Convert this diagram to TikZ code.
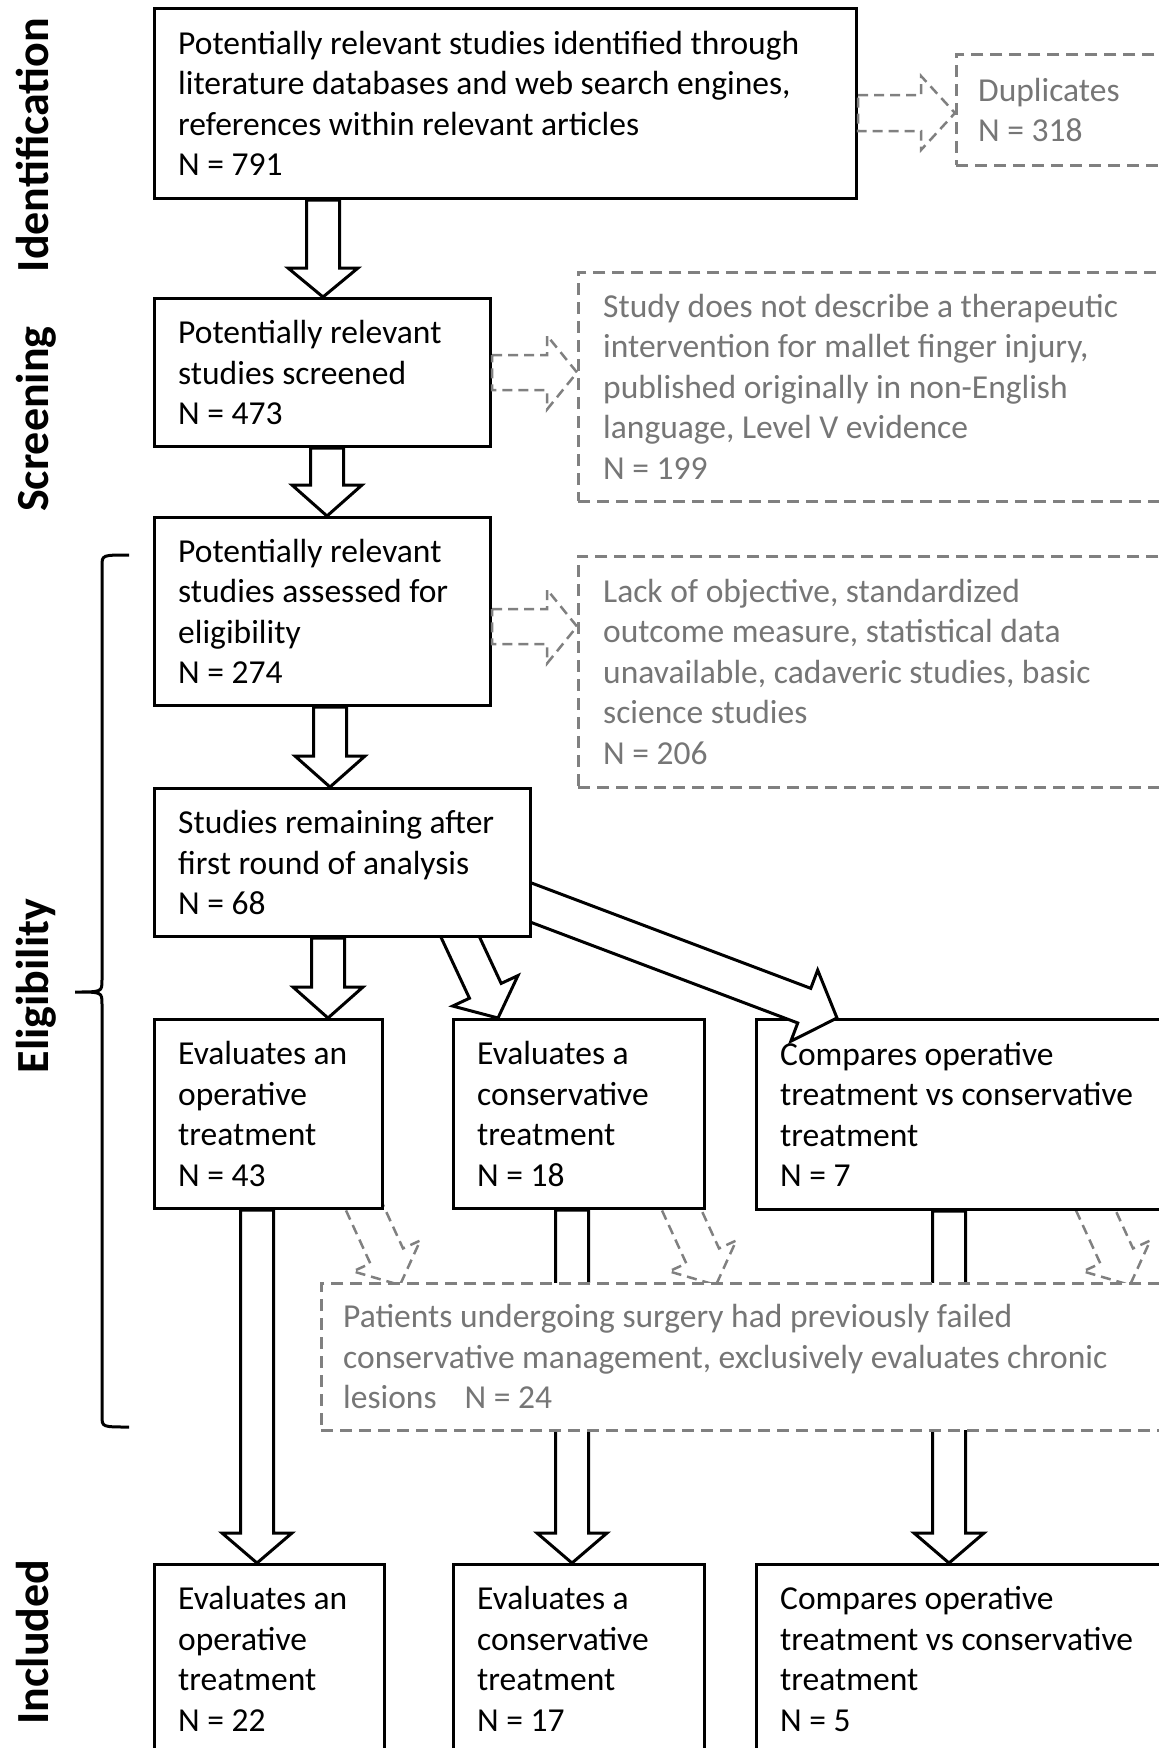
\documentclass[tikz,border=0pt]{standalone}
\usepackage{fontspec}
\setmainfont{Carlito}
\usetikzlibrary{calc}
\pgfdeclarelayer{bg}
\pgfdeclarelayer{front}
\pgfdeclarelayer{top}
\pgfsetlayers{bg,main,front,top}
\definecolor{dgray}{RGB}{128,128,128}
\definecolor{tgray}{RGB}{118,118,118}
\tikzset{
  box/.style={draw=black, line width=3pt, fill=white, anchor=north west, inner sep=0pt},
  dbox/.style={draw=dgray, line width=2.5pt, dash pattern=on 12pt off 7pt, fill=white, anchor=north west, inner sep=0pt},
  txt/.style={anchor=west, align=left, inner sep=0pt, font=\fontsize{33.5}{40.5}\selectfont, text=black},
  dtxt/.style={txt, text=tgray},
  side/.style={rotate=90, anchor=base, inner sep=0pt, font=\fontsize{46}{50}\selectfont\bfseries},
  blk/.style={draw=black, line width=3pt, fill=white, line join=miter},
  gar/.style={draw=dgray, line width=2.5pt, dash pattern=on 10pt off 6pt, fill=white},
}
% #1 style, #2 start, #3 tip, #4 shaft half width, #5 head half width, #6 head length
\newcommand{\blockarr}[6][]{%
  \coordinate (bah) at ($(#3)!#6pt!(#2)$);
  \draw[#1] ($(#2)!#4pt!90:(#3)$) -- ($(bah)!#4pt!-90:(#2)$) -- ($(bah)!#5pt!-90:(#2)$) -- (#3) -- ($(bah)!#5pt!90:(#2)$) -- ($(bah)!#4pt!90:(#2)$) -- ($(#2)!#4pt!-90:(#3)$) -- cycle;
}
\begin{document}
\begin{tikzpicture}[x=1pt,y=-1pt]
\useasboundingbox (0,0) rectangle (1159,1748);

% side labels
\node[side] (lid) at (48,145) {Identification};
\node[side] (lsc) at (48,419) {Screening};
\node[side] (lel) at (48,986) {Eligibility};
\node[side] (lin) at (48,1642) {Included};

% brace
\draw[line width=3pt] (129,555) .. controls (102,555) .. (102,566) -- (102,980) .. controls (102,992) .. (75,992) .. controls (102,992) .. (102,1004) -- (102,1416) .. controls (102,1427) .. (129,1427);

% boxes
\node[box, minimum width=702pt, minimum height=190pt] (b1) at (153,7) {};
\node[txt] (b1t) at ($(b1.west)+(25,0)$) {Potentially relevant studies identified through\\literature databases and web search engines,\\references within relevant articles\\N = 791};

\node[dbox, minimum width=205pt, minimum height=111pt] (dup) at (955,53) {};
\node[dtxt] (dupt) at ($(dup.west)+(23,0)$) {Duplicates\\N = 318};

\node[box, minimum width=336pt, minimum height=148pt] (b2) at (153,297) {};
\node[txt] (b2t) at ($(b2.west)+(25,0)$) {Potentially relevant\\studies screened\\N = 473};

\node[dbox, minimum width=583pt, minimum height=229pt] (ex2) at (577,271) {};
\node[dtxt] (ex2t) at ($(ex2.west)+(26,0)$) {Study does not describe a therapeutic\\intervention for mallet finger injury,\\published originally in non-English\\language, Level V evidence\\N = 199};

\node[box, minimum width=336pt, minimum height=188pt] (b3) at (153,516) {};
\node[txt] (b3t) at ($(b3.west)+(25,0)$) {Potentially relevant\\studies assessed for\\eligibility\\N = 274};

\node[dbox, minimum width=583pt, minimum height=231pt] (ex3) at (577,555) {};
\node[dtxt] (ex3t) at ($(ex3.west)+(26,0)$) {Lack of objective, standardized\\outcome measure, statistical data\\unavailable, cadaveric studies, basic\\science studies\\N = 206};

\begin{pgfonlayer}{top}
\node[box, minimum width=376pt, minimum height=148pt] (b4) at (153,787) {};
\node[txt] (b4t) at ($(b4.west)+(25,0)$) {Studies remaining after\\first round of analysis\\N = 68};
\end{pgfonlayer}

\node[box, minimum width=228pt, minimum height=189pt] (b5a) at (153,1018) {};
\node[txt] (b5at) at ($(b5a.west)+(25,0)$) {Evaluates an\\operative\\treatment\\N = 43};

\node[box, minimum width=251pt, minimum height=189pt] (b5b) at (452,1018) {};
\node[txt] (b5bt) at ($(b5b.west)+(25,0)$) {Evaluates a\\conservative\\treatment\\N = 18};

\node[box, minimum width=405pt, minimum height=190pt] (b5c) at (755,1018) {};
\node[txt] (b5ct) at ($(b5c.west)+(25,0)$) {Compares operative\\treatment vs conservative\\treatment\\N = 7};

\node[dbox, minimum width=840pt, minimum height=147pt] (b6) at (320,1282) {};
\node[dtxt] (b6t) at ($(b6.west)+(23,0)$) {Patients undergoing surgery had previously failed\\conservative management, exclusively evaluates chronic\\lesions\hspace{28pt}N = 24};

\node[box, minimum width=230pt, minimum height=189pt] (b7a) at (153,1563) {};
\node[txt] (b7at) at ($(b7a.west)+(25,0)$) {Evaluates an\\operative\\treatment\\N = 22};

\node[box, minimum width=251pt, minimum height=189pt] (b7b) at (452,1563) {};
\node[txt] (b7bt) at ($(b7b.west)+(25,0)$) {Evaluates a\\conservative\\treatment\\N = 17};

\node[box, minimum width=405pt, minimum height=189pt] (b7c) at (755,1563) {};
\node[txt] (b7ct) at ($(b7c.west)+(25,0)$) {Compares operative\\treatment vs conservative\\treatment\\N = 5};

% connector end points
\coordinate (a1s) at ($(b1.south west)+(170,0)$);
\coordinate (a1e) at (a1s |- b2.north);
\coordinate (a2s) at ($(b2.south west)+(174,0)$);
\coordinate (a2e) at (a2s |- b3.north);
\coordinate (a3s) at ($(b3.south west)+(177,0)$);
\coordinate (a3e) at (a3s |- b4.north);
\coordinate (a4s) at ($(b4.south west)+(175,0)$);
\coordinate (a4e) at (a4s |- b5a.north);
\coordinate (a5s) at ($(b4.south west)+(296,-25)$);
\coordinate (a5e) at ($(b5b.north west)+(46,0)$);
\coordinate (a6s) at ($(b4.north east)+(-29,105)$);
\coordinate (a6e) at ($(b5c.north west)+(82,0)$);

\coordinate (d1s) at ($(b1.north east)+(0,106)$);
\coordinate (d1e) at (d1s -| dup.west);
\coordinate (d2s) at (b2.east);
\coordinate (d2e) at (d2s -| ex2.west);
\coordinate (d3s) at ($(b3.east)+(0,15)$);
\coordinate (d3e) at (d3s -| ex3.west);

\coordinate (g1s) at ($(b5a.south east)+(-34,-34)$);
\coordinate (g1e) at ($(b5a.south east)+(16,75)$);
\coordinate (g2s) at ($(b5b.south east)+(-40,-34)$);
\coordinate (g2e) at ($(b5b.south east)+(10,75)$);
\coordinate (g3s) at ($(b5c.south west)+(325,-35)$);
\coordinate (g3e) at ($(b5c.south west)+(375,74)$);

\coordinate (l1s) at ($(b5a.south west)+(104,0)$);
\coordinate (l1e) at (l1s |- b7a.north);
\coordinate (l2s) at ($(b5b.south west)+(120,0)$);
\coordinate (l2e) at (l2s |- b7b.north);
\coordinate (l3s) at ($(b5c.south west)+(194,0)$);
\coordinate (l3e) at (l3s |- b7c.north);

% vertical block arrows
\blockarr[blk]{a1s}{a1e}{16.5}{35}{29}
\blockarr[blk]{a2s}{a2e}{16.5}{35}{31}
\blockarr[blk]{a3s}{a3e}{16.5}{35}{31}
\blockarr[blk]{a4s}{a4e}{16.5}{35}{31}

\begin{pgfonlayer}{front}
\blockarr[blk]{a5s}{a5e}{17.5}{36}{30}
\blockarr[blk]{a6s}{a6e}{18.5}{38}{35}
\blockarr[gar]{d1s}{d1e}{18}{37}{34}
\blockarr[gar]{d2s}{d2e}{17.5}{37}{30}
\blockarr[gar]{d3s}{d3e}{17.5}{37}{30}
\end{pgfonlayer}

\begin{pgfonlayer}{bg}
\blockarr[gar]{g1s}{g1e}{18}{37}{32}
\blockarr[gar]{g2s}{g2e}{18}{37}{32}
\blockarr[gar]{g3s}{g3e}{18}{37}{32}
\blockarr[blk]{l1s}{l1e}{16.5}{35}{30}
\blockarr[blk]{l2s}{l2e}{16.5}{35}{30}
\blockarr[blk]{l3s}{l3e}{16.5}{35}{30}
\end{pgfonlayer}
\end{tikzpicture}
\end{document}
